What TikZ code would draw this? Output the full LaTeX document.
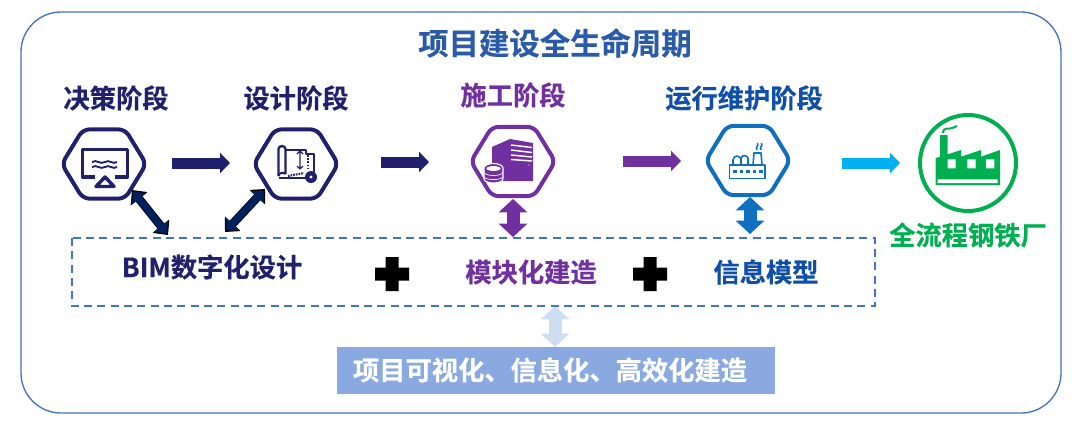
\documentclass[tikz,border=0pt]{standalone}
\usepackage{fontspec}
\setmainfont{Noto Sans CJK SC}[BoldFont={Noto Sans CJK SC Bold},BoldFeatures={FakeBold=0.4}]
\usetikzlibrary{shapes.geometric,arrows.meta,positioning,calc}
\definecolor{frameblue}{HTML}{4472C4}
\definecolor{titleblue}{HTML}{2B5BA8}
\definecolor{navy}{HTML}{20206C}
\definecolor{dnavy}{HTML}{002060}
\definecolor{purp}{HTML}{7030A0}
\definecolor{midblue}{HTML}{0F4FA8}
\definecolor{icoblue}{HTML}{0F6FC0}
\definecolor{cyanb}{HTML}{00B0F0}
\definecolor{greenb}{HTML}{00B050}
\definecolor{palebox}{HTML}{8AA9E0}
\definecolor{paleArrow}{HTML}{CFDDF2}
\tikzset{
  x=0.75pt,y=-0.75pt,
  lab/.style={font=\bfseries\fontsize{19.7pt}{22pt}\selectfont,inner sep=0pt},
  hexa/.style={regular polygon,regular polygon sides=6,minimum size=60pt,inner sep=0pt,draw=#1,line width=3pt,rounded corners=5pt,xscale=1.055},
  fat/.style={line width=8.25pt,-{Triangle[length=7.5pt,width=15pt]},#1},
  dbl/.style={line width=9.75pt,{Triangle[length=10pt,width=21pt]}-{Triangle[length=10pt,width=21pt]},#1},
  diagout/.style={line width=6.4pt,{Triangle[length=8.4pt,width=15.5pt]}-{Triangle[length=8.4pt,width=15.5pt]},black},
  diag/.style={line width=5.2pt,{Triangle[length=7pt,width=13.2pt]}-{Triangle[length=7pt,width=13.2pt]},#1},
}
\newcommand{\plussign}[1]{\fill[black,shift={(#1)}] (-6.5,-17) rectangle (6.5,17) (-17,-6.5) rectangle (17,6.5);}
\begin{document}
\begin{tikzpicture}
\useasboundingbox (0,0) rectangle (1080,426);
\draw[frameblue,line width=1pt,rounded corners=30pt] (21,12) rectangle (1061,413);
\node[lab,text=titleblue,font=\bfseries\fontsize{22.8pt}{26pt}\selectfont] (title) at (555,43) {项目建设全生命周期};
\node[lab,text=navy] (t1) at (116,98) {决策阶段};
\node[lab,text=navy] (t2) at (296,98) {设计阶段};
\node[lab,text=purp] (t3) at (513,95) {施工阶段};
\node[lab,text=midblue] (t4) at (744,98) {运行维护阶段};
\node[lab,text=greenb] (t5) at (968,235) {全流程钢铁厂};
% hexagons
\node[hexa=navy] (h1) at (104,164) {};
\node[hexa=navy] (h2) at (296,164) {};
\node[hexa=purp] (h3) at (513,161.5) {};
\node[hexa=icoblue] (h4) at (748,160.5) {};
\node[circle,draw=greenb,line width=3pt,minimum size=72pt,inner sep=0pt] (c5) at (968,163) {};
% connectors
\coordinate (a1s) at (172,163); \coordinate (a1e) at (230,163);
\coordinate (a2s) at (381,162); \coordinate (a2e) at (429,162);
\coordinate (a3s) at (623,161); \coordinate (a3e) at (681,161);
\coordinate (a4s) at (842,163); \coordinate (a4e) at (900,163);
\draw[fat=navy] (a1s) -- (a1e);
\draw[fat=navy] (a2s) -- (a2e);
\draw[fat=purp] (a3s) -- (a3e);
\draw[fat=cyanb] (a4s) -- (a4e);
\coordinate (d1s) at (132,190); \coordinate (d1e) at (168,235);
\coordinate (d2s) at (265,189); \coordinate (d2e) at (225,232);
\draw[diagout] (d1s) -- (d1e);
\draw[diagout] (d2s) -- (d2e);
\draw[diag=dnavy] ($(d1s)!1.5pt!(d1e)$) -- ($(d1e)!1.5pt!(d1s)$);
\draw[diag=dnavy] ($(d2s)!1.5pt!(d2e)$) -- ($(d2e)!1.5pt!(d2s)$);
\coordinate (v1s) at (513,199); \coordinate (v1e) at (513,237);
\coordinate (v2s) at (750,197); \coordinate (v2e) at (750,234);
\coordinate (v3s) at (555,306); \coordinate (v3e) at (555,347);
\draw[dbl=purp] (v1s) -- (v1e);
\draw[dbl=icoblue] (v2s) -- (v2e);
\draw[dbl=paleArrow] (v3s) -- (v3e);
% dashed box
\draw[frameblue,line width=1.3pt,dash pattern=on 6pt off 4pt] (72,238) rectangle (875,306);
\node[lab,text=navy] (b1) at (212,267) {BIM数字化设计};
\node[lab,text=purp] (b2) at (531,272) {模块化建造};
\node[lab,text=midblue] (b3) at (766,272) {信息模型};
\plussign{392,274}
\plussign{650,274}
% bottom box
\fill[palebox] (337,347) rectangle (775,394);
\node[lab,text=white] (bot) at (550,370) {项目可视化、信息化、高效化建造};
% icon 1
\draw[navy,line width=2.8pt,line join=round] (95,177) -- (82.5,177) -- (82.5,149.5) -- (127.5,149.5) -- (127.5,177) -- (115,177);
\draw[navy,line width=2.6pt,line join=round] (105,177) -- (114,186.5) -- (96,186.5) -- cycle;
\draw[navy,line width=1.4pt] (92,162) .. controls (97,159) and (100,165) .. (105,162) .. controls (109,159) and (113,165) .. (117,162);
\draw[navy,line width=1.4pt] (92,167) .. controls (97,164) and (100,170) .. (105,167) .. controls (109,164) and (113,170) .. (117,167);
% icon 2: blueprint
\begin{scope}[navy,line join=round]
\draw[line width=1.8pt] (278.5,176) -- (278.5,149) arc[start angle=180,end angle=360,x radius=3.5,y radius=3] -- (285.5,174);
\draw[line width=1.5pt] (278.5,176) .. controls (279.5,172) and (283.5,172) .. (285.5,174);
\draw[line width=1.5pt] (285.5,150) -- (306,150) -- (306,153.5) -- (314,153.5) -- (314,172);
\draw[line width=1.6pt] (278.5,178) -- (306,178);
\draw[line width=1pt] (300,151) -- (300,169) (297,154) -- (300,151) -- (303,154) (297,166) -- (300,169) -- (303,166);
\draw[line width=1.6pt,dash pattern=on 1.2pt off 1.2pt] (308,155) -- (308,170);
\draw[line width=1.6pt,dash pattern=on 1.2pt off 0.8pt] (288,176) -- (304,173);
\fill (311,177) circle[radius=6];
\fill[white] (311,177) circle[radius=1.6];
\end{scope}
% icon 3: server and database
\fill[purp] (492,147) -- (510,139) -- (533,143) -- (533,181) -- (492,181) -- cycle;
\draw[white,line width=1.1pt] (511,145) -- (532,147.5) (511,150) -- (532,152.5) (511,155) -- (532,157) (511,159.5) -- (532,161);
\fill[white] (529,165) circle[radius=0.7];
\draw[white,fill=purp,line width=0.8pt] (484,168) arc[start angle=180,end angle=360,x radius=9.5,y radius=4.5] -- (503,179) arc[start angle=0,end angle=180,x radius=9.5,y radius=4] -- cycle;
\fill[white] (493.5,168.5) ellipse[x radius=7,y radius=2.4];
\draw[white,line width=0.5pt] (484.5,172.5) arc[start angle=180,end angle=0,x radius=9,y radius=3];
\draw[white,line width=0.5pt] (484.5,177) arc[start angle=180,end angle=0,x radius=9,y radius=2.6];
% icon 4: plant
\begin{scope}[icoblue,line width=1.2pt,line join=round]
\draw (729.5,165) rectangle (765,178.5);
\draw (733,165) -- (733,160) arc[start angle=180,end angle=360,radius=4] -- (741,165);
\draw (741,165) -- (741,158.5) arc[start angle=180,end angle=360,x radius=3.5,y radius=3] -- (748,165);
\draw (753,165) -- (754,153) -- (761,153) -- (762,165);
\draw (757,150) .. controls (755,147) and (759,146) .. (757.5,143);
\draw (761,150) .. controls (759,147) and (763,146) .. (761.5,143);
\foreach \wx in {733,739.5,746,752.5,759}{\fill (\wx,169.5) rectangle ++(3.5,3);}
\end{scope}
% icon 5: factory
\fill[greenb] (935.7,185) -- (935.7,158.3) -- (940,156.7) -- (940,135) -- (947.7,135) -- (947.7,154.3) -- (961,150) -- (961,156.7) -- (981,150) -- (981,156.7) -- (1000,150) -- (1000,185) -- cycle;
\fill[white] (947.7,159.3) rectangle (955.7,168.3) (967.3,159.3) rectangle (975.7,168.3) (986,159.3) rectangle (994.3,168.3) (937.7,179.3) rectangle (997.7,183);
\draw[greenb,line width=1.5pt] (943,133) .. controls (943.5,126) and (949,130) .. (952,128) .. controls (953,127) and (955,128) .. (957,126);
\end{tikzpicture}
\end{document}
